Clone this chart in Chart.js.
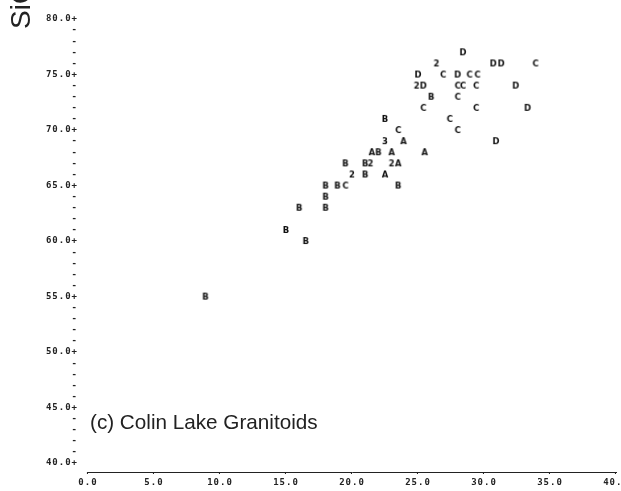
<!DOCTYPE html>
<html lang="en">
<head>
    <meta charset="UTF-8">
    <title>Colin Lake Granitoids</title>
    <script src="https://cdn.jsdelivr.net/npm/chart.js"></script>
    <style>
        body { margin: 0; background: #fff; }
        canvas { display: block; }
    </style>
</head>
<body>
    <canvas id="grafico" width="621" height="491"></canvas>

    <script>
        // values, one pair of arrays per plotting symbol
        const xA = [23.9, 21.5, 23.0, 25.5, 23.5, 22.5];
        const yA = [69, 68, 68, 68, 67, 66];

        const xB = [26.0, 22.5, 22.0, 19.5, 21.0, 21.0, 18.0, 18.9, 23.5, 18.0, 16.0, 18.0, 15.0, 16.5, 8.9];
        const yB = [73, 71, 68, 67, 67, 66, 65, 65, 65, 64, 63, 63, 61, 60, 55];

        const xC = [33.9, 26.9, 28.9, 29.5, 28.0, 28.4, 29.4, 28.0, 25.4, 29.4, 27.4, 23.5, 28.0, 19.5];
        const yC = [76, 75, 75, 75, 74, 74, 74, 73, 72, 72, 71, 70, 70, 65];

        const xD = [28.4, 30.7, 31.3, 25.0, 28.0, 25.4, 32.4, 33.3, 30.9];
        const yD = [77, 76, 76, 75, 75, 74, 74, 72, 69];

        // "2" and "3" = overlapping points
        const x2 = [26.4, 24.9, 21.4, 23.0, 20.0];
        const y2 = [76, 74, 67, 67, 66];
        const x3 = [22.5];
        const y3 = [69];

        const xTicks = [0, 5, 10, 15, 20, 25, 30, 35, 40];

        // small canvas with the letter, used as point style
        function glifo(ch) {
            const c = document.createElement("canvas");
            c.width = 10;
            c.height = 10;
            const g = c.getContext("2d");
            g.font = 'bold 8.5px "DejaVu Sans"';
            g.textAlign = "center";
            g.textBaseline = "middle";
            g.fillStyle = "#111";
            g.fillText(ch, 5, 5.5);
            return c;
        }

        function serie(ch, xs, ys) {
            return {
                label: ch,
                data: xs.map((x, i) => ({ x: x, y: ys[i] })),
                pointStyle: glifo(ch),
                pointRadius: 4,
                pointHoverRadius: 4
            };
        }

        const textos = {
            id: "textos",
            beforeDraw(chart) {
                // wide line-printer look for the axis numbers
                chart.ctx.letterSpacing = "1px";
            },
            afterDraw(chart) {
                const ctx = chart.ctx;
                ctx.save();
                ctx.letterSpacing = "0px";
                ctx.fillStyle = "#222";
                ctx.textAlign = "left";
                ctx.textBaseline = "alphabetic";
                ctx.font = '20.7px "Liberation Sans", Arial, sans-serif';
                ctx.fillText("(c) Colin Lake Granitoids", 90, 429);
                ctx.translate(30, 29);
                ctx.rotate(-Math.PI / 2);
                ctx.font = '28px "Liberation Sans", Arial, sans-serif';
                ctx.fillText("SiO\u2082 (wt%)", 0, 0);
                ctx.restore();
            }
        };

        const fonteEixo = { family: '"DejaVu Sans Mono", monospace', size: 9, weight: "bold", lineHeight: 1.2 };

        new Chart(document.getElementById("grafico"), {
            type: "scatter",
            data: {
                datasets: [
                    serie("A", xA, yA),
                    serie("B", xB, yB),
                    serie("C", xC, yC),
                    serie("D", xD, yD),
                    serie("2", x2, y2),
                    serie("3", x3, y3)
                ]
            },
            options: {
                responsive: false,
                animation: false,
                devicePixelRatio: 1,
                layout: { padding: { top: 19, right: 5, bottom: 0, left: 0 } },
                plugins: {
                    legend: { display: false },
                    tooltip: { enabled: false }
                },
                scales: {
                    x: {
                        type: "linear",
                        min: 0,
                        max: 40,
                        afterBuildTicks(s) { s.ticks = xTicks.map(v => ({ value: v })); },
                        afterFit(s) { s.height = 19; s.paddingLeft = 0; s.paddingRight = 0; },
                        grid: { display: false, drawTicks: false },
                        border: { display: true, color: "#222", width: 1, dash: [2, 2] },
                        ticks: {
                            padding: -6,
                            maxRotation: 0,
                            autoSkip: false,
                            color: "#222",
                            font: fonteEixo,
                            callback: v => ["+", v.toFixed(1)]
                        }
                    },
                    y: {
                        type: "linear",
                        min: 39.2,
                        max: 80,
                        afterBuildTicks(s) {
                            const t = [];
                            for (let v = 40; v <= 80; v++) t.push({ value: v });
                            s.ticks = t;
                        },
                        afterFit(s) { s.width = 88; s.paddingTop = 0; s.paddingBottom = 0; },
                        grid: { display: false, drawTicks: false },
                        border: { display: false },
                        ticks: {
                            padding: 10,
                            autoSkip: false,
                            color: "#222",
                            font: fonteEixo,
                            callback: v => (v % 5 === 0 ? v.toFixed(1) + "+" : "-")
                        }
                    }
                }
            },
            plugins: [textos]
        });
    </script>
</body>
</html>
